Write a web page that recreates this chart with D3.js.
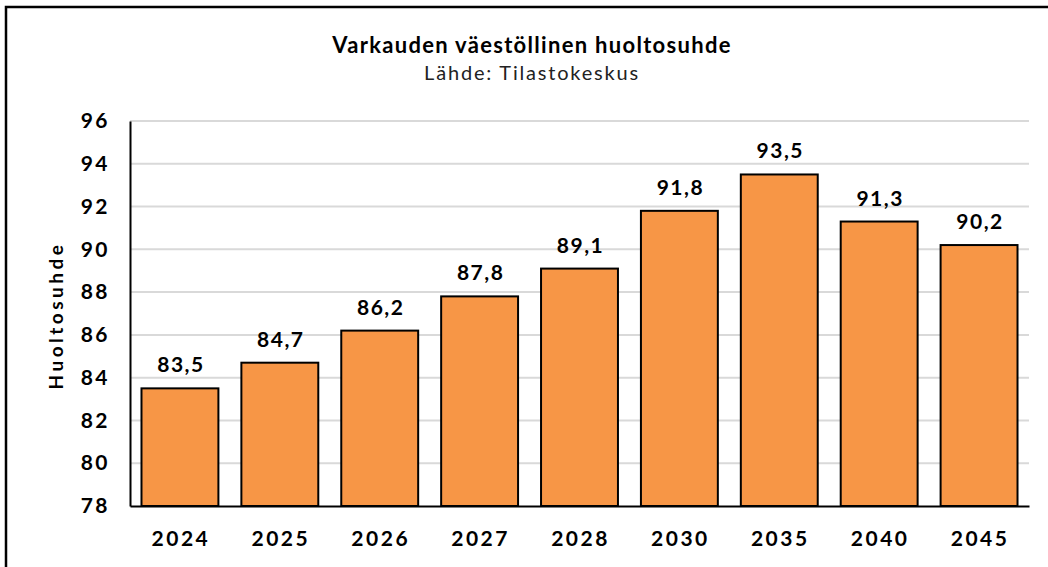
<!DOCTYPE html>
<html>
<head>
<meta charset="utf-8">
<script src="https://cdn.jsdelivr.net/npm/d3@7"></script>
<style>
  body { margin: 0; background: #fff; }
  text { font-family: Lato, "Open Sans", sans-serif; }
</style>
</head>
<body>
<div id="chart"></div>
<script>
// data
var years = ["2024", "2025", "2026", "2027", "2028", "2030", "2035", "2040", "2045"];
var values = [83.5, 84.7, 86.2, 87.8, 89.1, 91.8, 93.5, 91.3, 90.2];
var yTicks = [78, 80, 82, 84, 86, 88, 90, 92, 94, 96];

var width = 1048;
var height = 567;

var margin = {
    top: 121,
    bottom: 61,
    left: 130,
    right: 19
};

var svg = d3.select('#chart')
    .append('svg')
    .attr('width', width)
    .attr('height', height);

// frame
svg.append('rect')
    .attr('x', 6)
    .attr('y', 7)
    .attr('width', width + 10)
    .attr('height', height + 10)
    .attr('fill', 'none')
    .attr('stroke', '#000')
    .attr('stroke-width', 2.5);

var innerW = width - margin.left - margin.right;
var innerH = height - margin.top - margin.bottom;

var g = svg.append('g')
    .attr('transform', 'translate(' + margin.left + ',' + margin.top + ')');

var x_scale = d3.scaleBand()
    .domain(years)
    .range([0, innerW])
    .paddingInner(0.23)
    .paddingOuter(0.115);

var y_scale = d3.scaleLinear()
    .domain([78, 96])
    .range([innerH, 0]);

// gridlines
g.append('g')
    .selectAll('line')
    .data(yTicks.slice(1))
    .enter()
    .append('line')
    .attr('x1', 0)
    .attr('x2', innerW)
    .attr('y1', function(d) { return y_scale(d); })
    .attr('y2', function(d) { return y_scale(d); })
    .attr('stroke', '#d9d9d9')
    .attr('stroke-width', 2);

// bars
g.selectAll('.bar')
    .data(values)
    .enter()
    .append('rect')
    .attr('class', 'bar')
    .attr('x', function(d, i) { return x_scale(years[i]); })
    .attr('width', x_scale.bandwidth())
    .attr('y', function(d) { return y_scale(d); })
    .attr('height', function(d) { return innerH - y_scale(d); })
    .attr('fill', '#f79646')
    .attr('stroke', '#000')
    .attr('stroke-width', 2);

// value labels
g.selectAll('.val')
    .data(values)
    .enter()
    .append('text')
    .attr('class', 'val')
    .attr('x', function(d, i) { return x_scale(years[i]) + x_scale.bandwidth() / 2 + 1; })
    .attr('y', function(d) { return y_scale(d) - 16; })
    .attr('text-anchor', 'middle')
    .attr('font-size', 21)
    .attr('font-weight', 'bold')
    .attr('letter-spacing', 1.5)
    .attr('fill', '#000')
    .text(function(d) { return d3.format('.1f')(d).replace('.', ','); });

// axes
var y_axis = d3.axisLeft(y_scale)
    .tickValues(yTicks)
    .tickSize(0)
    .tickPadding(20);

var x_axis = d3.axisBottom(x_scale)
    .tickSize(0)
    .tickPadding(25);

g.append('g')
    .attr('class', 'y axis')
    .call(y_axis)
    .call(function(s) {
        s.select('.domain').attr('stroke', '#000').attr('stroke-width', 2);
        s.selectAll('text')
            .attr('font-size', 21)
            .attr('font-weight', 'bold')
            .attr('letter-spacing', 2.5)
            .attr('fill', '#000')
            .style('font-family', 'Lato, sans-serif');
    });

g.append('g')
    .attr('class', 'x axis')
    .attr('transform', 'translate(0,' + innerH + ')')
    .call(x_axis)
    .call(function(s) {
        s.select('.domain').attr('stroke', '#000').attr('stroke-width', 2);
        s.selectAll('text')
            .attr('font-size', 21)
            .attr('font-weight', 'bold')
            .attr('letter-spacing', 2.5)
            .attr('dx', 1)
            .attr('fill', '#000')
            .style('font-family', 'Lato, sans-serif');
    });

// y label
svg.append('text')
    .attr('transform', 'translate(63,' + (margin.top + innerH / 2 + 2) + ')rotate(-90)')
    .attr('text-anchor', 'middle')
    .attr('font-size', 19)
    .attr('font-weight', 'bold')
    .attr('letter-spacing', 3.5)
    .attr('fill', '#000')
    .text('Huoltosuhde');

// titles
svg.append('text')
    .attr('x', 532)
    .attr('y', 53)
    .attr('text-anchor', 'middle')
    .attr('font-size', 22)
    .attr('font-weight', 'bold')
    .attr('letter-spacing', 1.3)
    .attr('fill', '#000')
    .text('Varkauden väestöllinen huoltosuhde');

svg.append('text')
    .attr('x', 532)
    .attr('y', 80)
    .attr('text-anchor', 'middle')
    .attr('font-size', 20)
    .attr('letter-spacing', 1.8)
    .attr('fill', '#222')
    .text('Lähde: Tilastokeskus');
</script>
</body>
</html>
